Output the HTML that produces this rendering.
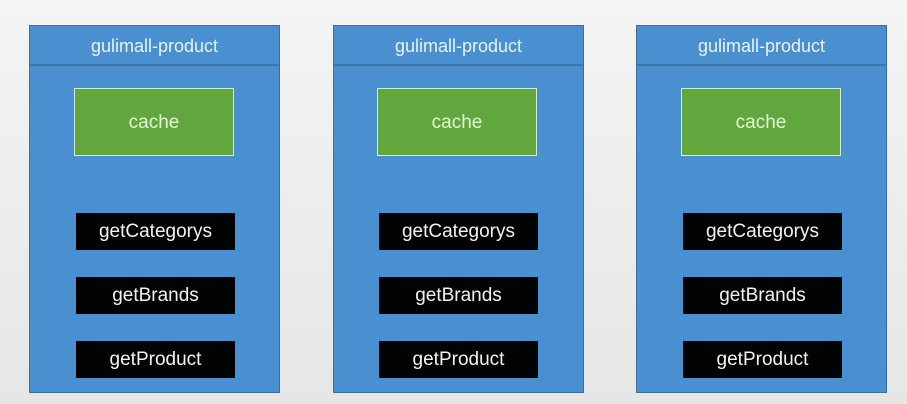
<!DOCTYPE html>
<html><head><style>
body{margin:0;width:907px;height:404px;background:linear-gradient(#f4f4f4,#e6e6e6);position:relative;overflow:hidden;font-family:"Liberation Sans",sans-serif}
.p{position:absolute;top:25px;width:251px;height:368px;background:#4a8fcf;border:1px solid #3a6f9f;box-sizing:border-box}
.h{position:absolute;left:0;top:0;width:100%;height:38px;border-bottom:2px solid #3d78ad;color:#e8f4ff;font-size:18px;text-align:center;line-height:40px}
.c{position:absolute;top:62px;width:160px;height:68px;background:#62a73d;border:1px solid #cfeedd;box-sizing:border-box;color:#e4f7d8;font-size:19px;text-align:center;line-height:68px}
.b{position:absolute;width:159px;height:37px;background:#020304;color:#f2f2f2;font-size:19px;text-align:center;line-height:37px}
</style></head><body>
<div class="p" style="left:29px"><div class="h">gulimall-product</div><div class="c" style="left:44px">cache</div>
<div class="b" style="left:46px;top:187px">getCategorys</div><div class="b" style="left:46px;top:251px">getBrands</div><div class="b" style="left:46px;top:315px">getProduct</div></div>
<div class="p" style="left:333px"><div class="h">gulimall-product</div><div class="c" style="left:43px">cache</div>
<div class="b" style="left:45px;top:187px">getCategorys</div><div class="b" style="left:45px;top:251px">getBrands</div><div class="b" style="left:45px;top:315px">getProduct</div></div>
<div class="p" style="left:636px"><div class="h">gulimall-product</div><div class="c" style="left:44px">cache</div>
<div class="b" style="left:46px;top:187px">getCategorys</div><div class="b" style="left:46px;top:251px">getBrands</div><div class="b" style="left:46px;top:315px">getProduct</div></div>
</body></html>
